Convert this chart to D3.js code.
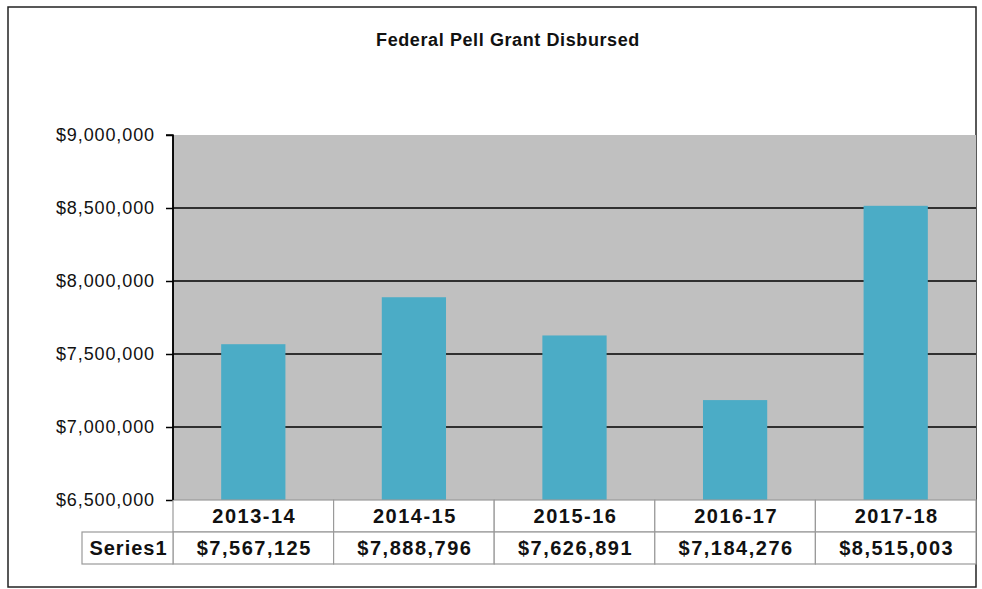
<!DOCTYPE html>
<html>
<head>
<meta charset="utf-8">
<script src="https://cdn.jsdelivr.net/npm/d3@7"></script>
<style>
  html, body { margin: 0; padding: 0; background: #fff; }
  svg { display: block; font-family: "Liberation Sans", Arial, sans-serif; }
</style>
</head>
<body>
<svg id="chart" width="982" height="589"></svg>
<script>
const title = "Federal Pell Grant Disbursed";
const categories = ["2013-14", "2014-15", "2015-16", "2016-17", "2017-18"];
const seriesName = "Series1";
const values = [7567125, 7888796, 7626891, 7184276, 8515003];
const yTicks = [6500000, 7000000, 7500000, 8000000, 8500000, 9000000];

const svg = d3.select("#chart");
const plot = { left: 173, right: 976, top: 135, bottom: 500 };
const rowH = 32;
const labelLeft = 82;

const x = d3.scaleBand().domain(categories).range([plot.left, plot.right]).padding(0);
const y = d3.scaleLinear().domain([6500000, 9000000]).range([plot.bottom, plot.top]);
const fmt = v => "$" + d3.format(",")(v);

// outer border
svg.append("rect").attr("x", 8).attr("y", 7).attr("width", 968).attr("height", 580)
  .attr("fill", "#fff").attr("stroke", "#222").attr("stroke-width", 1.5);

// title
svg.append("text").attr("x", 508).attr("y", 46).attr("text-anchor", "middle")
  .attr("font-size", 18).attr("font-weight", "bold").attr("letter-spacing", 0.6)
  .attr("fill", "#111").text(title);

// plot area
svg.append("rect").attr("x", plot.left).attr("y", plot.top)
  .attr("width", plot.right - plot.left).attr("height", plot.bottom - plot.top)
  .attr("fill", "#c0c0c0");

// gridlines
svg.append("g").selectAll("line").data(yTicks.filter(t => t > 6500000 && t < 9000000)).join("line")
  .attr("x1", plot.left).attr("x2", plot.right)
  .attr("y1", d => y(d)).attr("y2", d => y(d))
  .attr("stroke", "#000").attr("stroke-width", 1.5);

// bars
const barW = x.bandwidth() * 0.4;
svg.append("g").selectAll("rect").data(values).join("rect")
  .attr("x", (d, i) => x(categories[i]) + (x.bandwidth() - barW) / 2)
  .attr("y", d => y(d))
  .attr("width", barW)
  .attr("height", d => plot.bottom - y(d))
  .attr("fill", "#4bacc6");

// y axis
const yAxis = d3.axisLeft(y).tickValues(yTicks).tickFormat(fmt).tickSize(7).tickPadding(11);
const ga = svg.append("g").attr("transform", `translate(${plot.left},0)`).call(yAxis);
ga.select(".domain").attr("stroke", "#000").attr("stroke-width", 1.5).attr("d", `M-7,${plot.top}H0V${plot.bottom}`);
ga.selectAll(".tick line").attr("stroke", "#000").attr("stroke-width", 1.5);
ga.selectAll(".tick text").attr("font-size", 18).attr("letter-spacing", 0.9)
  .attr("fill", "#111").attr("font-family", "'Liberation Sans', Arial, sans-serif");

// data table
const tbl = svg.append("g");
const gridColor = "#9a9a9a";
tbl.selectAll("rect.cat").data(categories).join("rect").attr("class", "cat")
  .attr("x", d => x(d)).attr("y", plot.bottom).attr("width", x.bandwidth()).attr("height", rowH)
  .attr("fill", "#fff").attr("stroke", gridColor).attr("stroke-width", 1.2);
tbl.selectAll("rect.val").data(categories).join("rect").attr("class", "val")
  .attr("x", d => x(d)).attr("y", plot.bottom + rowH).attr("width", x.bandwidth()).attr("height", rowH)
  .attr("fill", "#fff").attr("stroke", gridColor).attr("stroke-width", 1.2);
tbl.append("rect").attr("x", labelLeft).attr("y", plot.bottom + rowH)
  .attr("width", plot.left - labelLeft).attr("height", rowH)
  .attr("fill", "#fff").attr("stroke", gridColor).attr("stroke-width", 1.2);

const tstyle = sel => sel.attr("font-size", 20).attr("font-weight", "bold")
  .attr("letter-spacing", 1.5).attr("text-anchor", "middle").attr("fill", "#111");

tbl.selectAll("text.cat").data(categories).join("text").attr("class", "cat")
  .attr("x", d => x(d) + x.bandwidth() / 2 + 1).attr("y", plot.bottom + rowH / 2 + 7)
  .call(tstyle).text(d => d);
tbl.selectAll("text.val").data(values).join("text").attr("class", "val")
  .attr("x", (d, i) => x(categories[i]) + x.bandwidth() / 2 + 1).attr("y", plot.bottom + rowH * 1.5 + 7)
  .call(tstyle).text(d => fmt(d));
tbl.append("text").attr("x", (labelLeft + plot.left) / 2 + 1).attr("y", plot.bottom + rowH * 1.5 + 7)
  .call(tstyle).attr("letter-spacing", 1).text(seriesName);

svg.append("line").attr("x1", plot.left).attr("x2", plot.left).attr("y1", plot.top).attr("y2", plot.bottom)
  .attr("stroke", "#000").attr("stroke-width", 1.5);
</script>
</body>
</html>
